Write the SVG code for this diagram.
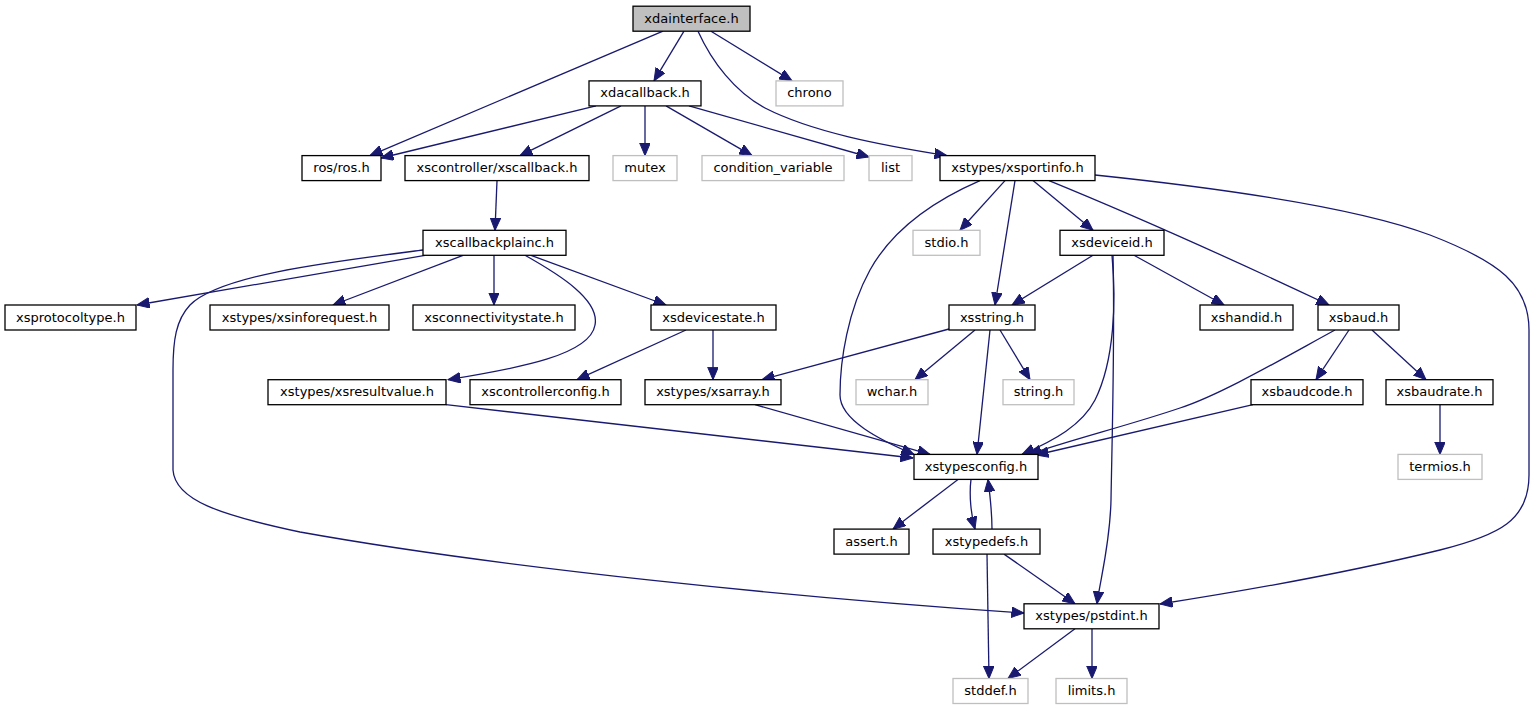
<svg xmlns="http://www.w3.org/2000/svg" width="1536" height="709" viewBox="0 0 1536 709">
<style>
.n rect{fill:#fff;stroke:#000;stroke-width:1.3}
.n.g rect{stroke:#bfbfbf}
.n.m rect{fill:#bfbfbf}
.n text{font-family:"DejaVu Sans",sans-serif;font-size:13px;fill:#000;text-anchor:middle}
#edges path{fill:none;stroke:#191970;stroke-width:1.3;marker-end:url(#ah)}
</style>
<defs>
<marker id="ah" markerWidth="13" markerHeight="11" refX="12.5" refY="5.3" orient="auto" markerUnits="userSpaceOnUse">
<path d="M0,0 L12.5,5.3 L0,10.6 z" fill="#191970" stroke="#191970" stroke-width="1"/>
</marker>
</defs>
<rect width="1536" height="709" fill="#fff"/>
<g id="edges">
<path d="M663,31.2 L370,155.6"/>
<path d="M684,31.2 L654,80.9"/>
<path d="M711,31.2 L792,80.9"/>
<path d="M698,31.2 C712,62 735,92 765,108 C812,132 880,145 947,155.6"/>
<path d="M596,105.9 L381,158"/>
<path d="M621,105.9 L520,155.6"/>
<path d="M645,105.9 L645,155.6"/>
<path d="M666,105.9 L752,155.6"/>
<path d="M689,105.9 L869,157"/>
<path d="M497,180.6 L495,230.3"/>
<path d="M425,255.3 L137,305"/>
<path d="M423,250 C330,262 220,275 190,305 C176,320 173,340 173,370 L173,470 C175,500 220,515 300,532 C500,568 800,598 1024,613"/>
<path d="M463,255.3 L333,305"/>
<path d="M494,255.3 L494,305"/>
<path d="M525,255.3 C560,275 600,300 595,325 C590,355 520,368 448,379.7"/>
<path d="M531,255.3 L666,305"/>
<path d="M686,330 L577,379.7"/>
<path d="M713,330 L713,379.7"/>
<path d="M1005,180.6 L960,230.3"/>
<path d="M1015,180.6 L995,305"/>
<path d="M1033,180.6 L1093,230.3"/>
<path d="M1049,180.6 Q1170,230 1329,305"/>
<path d="M980,180.6 C940,198 895,225 870,270 C848,310 840,360 840,395 C840,420 880,440 914,454.4"/>
<path d="M1095,175 C1200,186 1350,205 1430,235 C1500,262 1529,285 1529,330 L1529,475 C1529,520 1500,535 1440,550 C1350,572 1250,590 1160,604"/>
<path d="M1093,255.3 L1012,305"/>
<path d="M1134,255.3 L1224,305"/>
<path d="M1112,255.3 C1116,300 1115,360 1095,400 C1082,425 1055,440 1022,454.4"/>
<path d="M1113,255.3 C1115,340 1112,440 1111,500 C1110,545 1100,580 1097,603.8"/>
<path d="M949,329 L762,379.7"/>
<path d="M975,330 L915,379.7"/>
<path d="M1000,330 L1030,379.7"/>
<path d="M990,330 L977,454.4"/>
<path d="M1335,330 C1280,360 1220,395 1180,408 C1130,425 1070,440 1029,454.4"/>
<path d="M1349,330 L1316,379.7"/>
<path d="M1372,330 L1426,379.7"/>
<path d="M1253,404.7 L1036,455"/>
<path d="M1440,404.7 L1440,454.4"/>
<path d="M446,404.7 L913,458"/>
<path d="M755,404.7 L930,454.4"/>
<path d="M958,479.4 L893,529.1"/>
<path d="M971,479.4 C969,495 971,515 975,529.1"/>
<path d="M992,529.1 C992,512 990,495 988,479.4"/>
<path d="M987,554.1 L989,678.5"/>
<path d="M1004,554.1 L1075,603.8"/>
<path d="M1075,628.8 L1008,678.5"/>
<path d="M1092,628.8 L1092,678.5"/>
</g>
<g id="xdainterface" class="n m"><rect x="633" y="6.2" width="117" height="25"/><text x="691.5" y="22.7">xdainterface.h</text></g>
<g id="xdacallback" class="n"><rect x="589" y="80.9" width="112" height="25"/><text x="645" y="97.4">xdacallback.h</text></g>
<g id="chrono" class="n g"><rect x="776" y="80.9" width="67" height="25"/><text x="809.5" y="97.4">chrono</text></g>
<g id="ros" class="n"><rect x="302" y="155.6" width="79" height="25"/><text x="341.5" y="172.1">ros/ros.h</text></g>
<g id="xscallback" class="n"><rect x="405" y="155.6" width="184" height="25"/><text x="497" y="172.1">xscontroller/xscallback.h</text></g>
<g id="mutex" class="n g"><rect x="613" y="155.6" width="64" height="25"/><text x="645" y="172.1">mutex</text></g>
<g id="condition_variable" class="n g"><rect x="702" y="155.6" width="142" height="25"/><text x="773" y="172.1">condition_variable</text></g>
<g id="list" class="n g"><rect x="869" y="155.6" width="43" height="25"/><text x="890.5" y="172.1">list</text></g>
<g id="xsportinfo" class="n"><rect x="940" y="155.6" width="155" height="25"/><text x="1017.5" y="172.1">xstypes/xsportinfo.h</text></g>
<g id="xscallbackplainc" class="n"><rect x="423" y="230.3" width="143" height="25"/><text x="494.5" y="246.8">xscallbackplainc.h</text></g>
<g id="stdio" class="n g"><rect x="913" y="230.3" width="67" height="25"/><text x="946.5" y="246.8">stdio.h</text></g>
<g id="xsdeviceid" class="n"><rect x="1060" y="230.3" width="104" height="25"/><text x="1112" y="246.8">xsdeviceid.h</text></g>
<g id="xsprotocoltype" class="n"><rect x="5" y="305" width="131" height="25"/><text x="70.5" y="321.5">xsprotocoltype.h</text></g>
<g id="xsinforequest" class="n"><rect x="210" y="305" width="179" height="25"/><text x="299.5" y="321.5">xstypes/xsinforequest.h</text></g>
<g id="xsconnectivitystate" class="n"><rect x="413" y="305" width="162" height="25"/><text x="494" y="321.5">xsconnectivitystate.h</text></g>
<g id="xsdevicestate" class="n"><rect x="651" y="305" width="125" height="25"/><text x="713.5" y="321.5">xsdevicestate.h</text></g>
<g id="xsstring" class="n"><rect x="949" y="305" width="86" height="25"/><text x="992" y="321.5">xsstring.h</text></g>
<g id="xshandid" class="n"><rect x="1200" y="305" width="93" height="25"/><text x="1246.5" y="321.5">xshandid.h</text></g>
<g id="xsbaud" class="n"><rect x="1318" y="305" width="81" height="25"/><text x="1358.5" y="321.5">xsbaud.h</text></g>
<g id="xsresultvalue" class="n"><rect x="268" y="379.7" width="178" height="25"/><text x="357" y="396.2">xstypes/xsresultvalue.h</text></g>
<g id="xscontrollerconfig" class="n"><rect x="470" y="379.7" width="151" height="25"/><text x="545.5" y="396.2">xscontrollerconfig.h</text></g>
<g id="xsarray" class="n"><rect x="645" y="379.7" width="136" height="25"/><text x="713" y="396.2">xstypes/xsarray.h</text></g>
<g id="wchar" class="n g"><rect x="856" y="379.7" width="72" height="25"/><text x="892" y="396.2">wchar.h</text></g>
<g id="string" class="n g"><rect x="1003" y="379.7" width="71" height="25"/><text x="1038.5" y="396.2">string.h</text></g>
<g id="xsbaudcode" class="n"><rect x="1251" y="379.7" width="112" height="25"/><text x="1307" y="396.2">xsbaudcode.h</text></g>
<g id="xsbaudrate" class="n"><rect x="1386" y="379.7" width="107" height="25"/><text x="1439.5" y="396.2">xsbaudrate.h</text></g>
<g id="xstypesconfig" class="n"><rect x="914" y="454.4" width="124" height="25"/><text x="976" y="470.9">xstypesconfig.h</text></g>
<g id="termios" class="n g"><rect x="1398" y="454.4" width="84" height="25"/><text x="1440" y="470.9">termios.h</text></g>
<g id="assert" class="n"><rect x="834" y="529.1" width="75" height="25"/><text x="871.5" y="545.6">assert.h</text></g>
<g id="xstypedefs" class="n"><rect x="933" y="529.1" width="107" height="25"/><text x="986.5" y="545.6">xstypedefs.h</text></g>
<g id="pstdint" class="n"><rect x="1024" y="603.8" width="135" height="25"/><text x="1091.5" y="620.3">xstypes/pstdint.h</text></g>
<g id="stddef" class="n g"><rect x="953" y="678.5" width="75" height="25"/><text x="990.5" y="695">stddef.h</text></g>
<g id="limits" class="n g"><rect x="1056" y="678.5" width="71" height="25"/><text x="1091.5" y="695">limits.h</text></g>
</svg>
